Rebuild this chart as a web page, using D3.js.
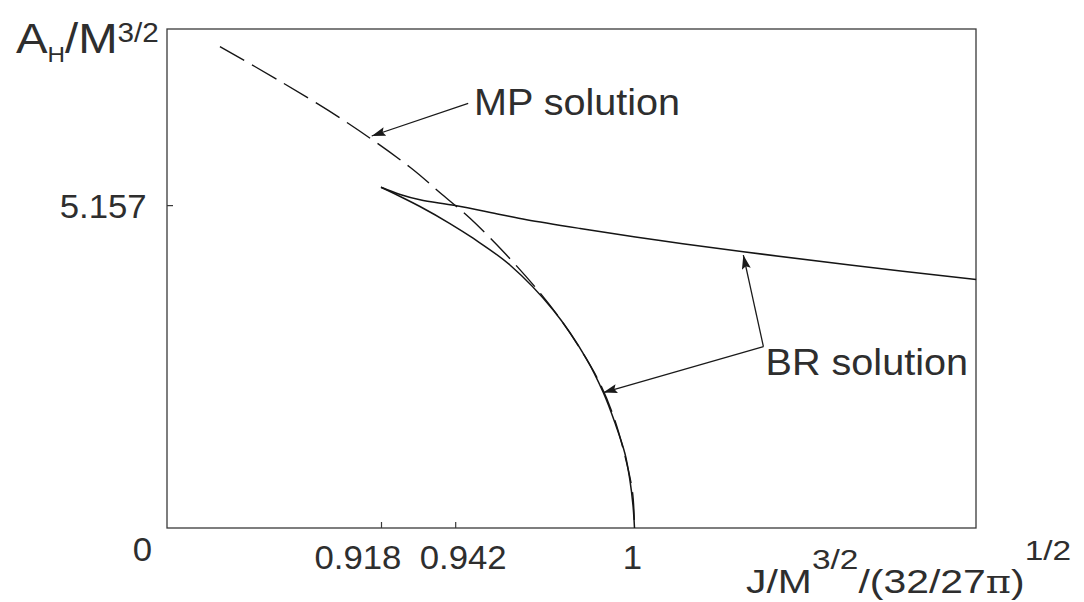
<!DOCTYPE html>
<html><head><meta charset="utf-8">
<script src="https://cdn.jsdelivr.net/npm/d3@7"></script>
<style>
body{margin:0;background:#fff;}
svg{display:block;}
text{font-family:"Liberation Sans",Arial,Helvetica,sans-serif;fill:#2e2e2e;}
</style>
</head><body>
<svg id="chart" width="1084" height="602"></svg>
<script>
// ---- data ----
const xTickValues = [0.918, 0.942, 1];
const xTickLabels = ["0.918", "0.942", "1"];
const xTickMarked = [true, true, false];
const yTickValues = [5.157];
const yTickLabels = ["5.157"];
const originLabel = "0";

// MP solution (dashed)
const mpJ = [0.8659, 0.8847, 0.9066, 0.9274, 0.9371, 0.9468, 0.9583, 0.9694, 0.9770, 0.9840, 0.9888, 0.9934, 0.9975, 0.9994, 1.0];
const mpA = [7.687, 7.155, 6.489, 5.761, 5.355, 4.946, 4.376, 3.758, 3.269, 2.736, 2.311, 1.757, 1.033, 0.554, 0];

// BR solution, upper branch
const brUpperJ = [0.918, 0.9242, 0.9306, 0.942, 0.9565, 0.9651, 0.9824, 1.0083, 1.0352, 1.0697, 1.1105];
const brUpperA = [5.442, 5.327, 5.242, 5.150, 5.007, 4.923, 4.784, 4.592, 4.411, 4.201, 3.969];

// BR solution, lower branch
const brLowerJ = [0.918, 0.9242, 0.9306, 0.9403, 0.9479, 0.9597, 0.9737, 0.9845, 0.9899, 0.9937, 0.9969, 0.9985, 0.9995, 1.0];
const brLowerA = [5.442, 5.295, 5.135, 4.863, 4.624, 4.201, 3.482, 2.699, 2.164, 1.677, 1.190, 0.767, 0.367, 0];

// annotations (data coordinates)
const annotationTexts = ["MP solution", "BR solution"];
const annotationJ = [0.9481, 1.0424];
const annotationA = [6.596, 2.444];
const arrowFromJ = [0.9462, 1.0417, 1.0417];
const arrowFromA = [6.783, 2.896, 2.896];
const arrowToJ = [0.9150, 1.0352, 0.9899];
const arrowToA = [6.261, 4.360, 2.164];

// ---- layout ----
const plot = {left: 167, right: 976, top: 29, bottom: 528};
const stretch = 1.07;
const svg = d3.select("#chart");

const x = d3.scaleLinear().domain([0.84878, 1.11046]).range([plot.left, plot.right]);
const y = d3.scaleLinear().domain([0, 7.97]).range([plot.bottom, plot.top]);

// arrow marker
svg.append("defs").append("marker")
  .attr("id", "arrow").attr("markerUnits", "userSpaceOnUse")
  .attr("markerWidth", 16).attr("markerHeight", 10)
  .attr("refX", 14).attr("refY", 4.5).attr("orient", "auto")
  .append("path").attr("d", "M0,0 L14,4.5 L0,9 L2.5,4.5 Z").attr("fill", "#1a1a1a");

// frame
svg.append("rect")
  .attr("x", plot.left).attr("y", plot.top)
  .attr("width", plot.right - plot.left).attr("height", plot.bottom - plot.top)
  .attr("fill", "none").attr("stroke", "#3a3a3a").attr("stroke-width", 1.3);

// x axis
const xLabelShift = [-22, 7, -2.5];
const xAxis = svg.append("g").attr("transform", `translate(0,${plot.bottom})`)
  .call(d3.axisBottom(x).tickValues(xTickValues).tickSize(-6).tickSizeOuter(0)
    .tickFormat((d, i) => xTickLabels[i]));
xAxis.select(".domain").remove();
xAxis.selectAll(".tick line").attr("stroke", "#3a3a3a").attr("stroke-width", 1.2)
  .attr("y2", (d, i) => xTickMarked[i] ? -6 : 0);
xAxis.selectAll(".tick text")
  .attr("y", 41).attr("dy", 0)
  .attr("x", (d, i) => xLabelShift[i])
  .attr("transform", `scale(${stretch},1)`)
  .style("font-size", "32.5px").style("font-family", "'Liberation Sans',Arial,sans-serif")
  .attr("fill", "#2e2e2e");

// y axis
const yAxis = svg.append("g").attr("transform", `translate(${plot.left},0)`)
  .call(d3.axisLeft(y).tickValues(yTickValues).tickSize(-6).tickSizeOuter(0)
    .tickFormat((d, i) => yTickLabels[i]));
yAxis.select(".domain").remove();
yAxis.selectAll(".tick line").attr("stroke", "#3a3a3a").attr("stroke-width", 1.2);
yAxis.selectAll(".tick text")
  .attr("x", -19).attr("dy", "0.39em")
  .attr("transform", `scale(${stretch},1)`)
  .style("font-size", "32.5px").style("font-family", "'Liberation Sans',Arial,sans-serif")
  .attr("fill", "#2e2e2e");

// origin label
svg.append("text")
  .attr("transform", `translate(${x.range()[0] - 24.5},${y(0) + 33}) scale(${stretch},1)`)
  .attr("text-anchor", "middle").style("font-size", "32.5px")
  .text(originLabel);

// curves
const line = d3.line().x(d => x(d[0])).y(d => y(d[1])).curve(d3.curveCatmullRom.alpha(0.5));
const zip = (a, b) => a.map((v, i) => [v, b[i]]);

svg.append("path").datum(zip(mpJ, mpA))
  .attr("d", line).attr("fill", "none").attr("stroke", "#151515")
  .attr("stroke-width", 1.4).attr("stroke-dasharray", "28,9");

svg.append("path").datum(zip(brUpperJ, brUpperA))
  .attr("d", line).attr("fill", "none").attr("stroke", "#151515").attr("stroke-width", 1.5);

svg.append("path").datum(zip(brLowerJ, brLowerA))
  .attr("d", line).attr("fill", "none").attr("stroke", "#151515").attr("stroke-width", 1.5);

// arrows
svg.selectAll("line.arrow").data(arrowFromJ).join("line").attr("class", "arrow")
  .attr("x1", (d, i) => x(arrowFromJ[i])).attr("y1", (d, i) => y(arrowFromA[i]))
  .attr("x2", (d, i) => x(arrowToJ[i])).attr("y2", (d, i) => y(arrowToA[i]))
  .attr("stroke", "#1a1a1a").attr("stroke-width", 1.3).attr("marker-end", "url(#arrow)");

// annotation texts
svg.selectAll("text.annot").data(annotationTexts).join("text").attr("class", "annot")
  .attr("transform", (d, i) => `translate(${x(annotationJ[i])},${y(annotationA[i])}) scale(${stretch},1)`)
  .style("font-size", "37px").text(d => d);

// y axis title: A_H / M^{3/2}
const yt = svg.append("text")
  .attr("transform", `translate(16,53.3) scale(1.1,1)`)
  .style("font-size", "43px");
yt.append("tspan").text("A");
yt.append("tspan").attr("dy", 8.7).style("font-size", "22px").text("H");
yt.append("tspan").attr("dy", -8.7).style("font-size", "43px").text("/M");
yt.append("tspan").attr("dy", -11.6).style("font-size", "27px").text("3/2");

// x axis title: J/M^{3/2}/(32/27π)^{1/2}
const xt = svg.append("text")
  .attr("transform", `translate(746,592.7) scale(1.24,1)`)
  .style("font-size", "33px");
xt.append("tspan").text("J/M");
xt.append("tspan").attr("dy", -24).style("font-size", "27px").text("3/2");
xt.append("tspan").attr("dy", 24).style("font-size", "33px").text("/(32/27");
xt.append("tspan").style("font-family", "'DejaVu Serif','Liberation Serif',serif").style("font-size", "31px").text("π");
xt.append("tspan").style("font-size", "33px").text(")");
xt.append("tspan").attr("dy", -33).style("font-size", "27px").text("1/2");
</script>
</body></html>
